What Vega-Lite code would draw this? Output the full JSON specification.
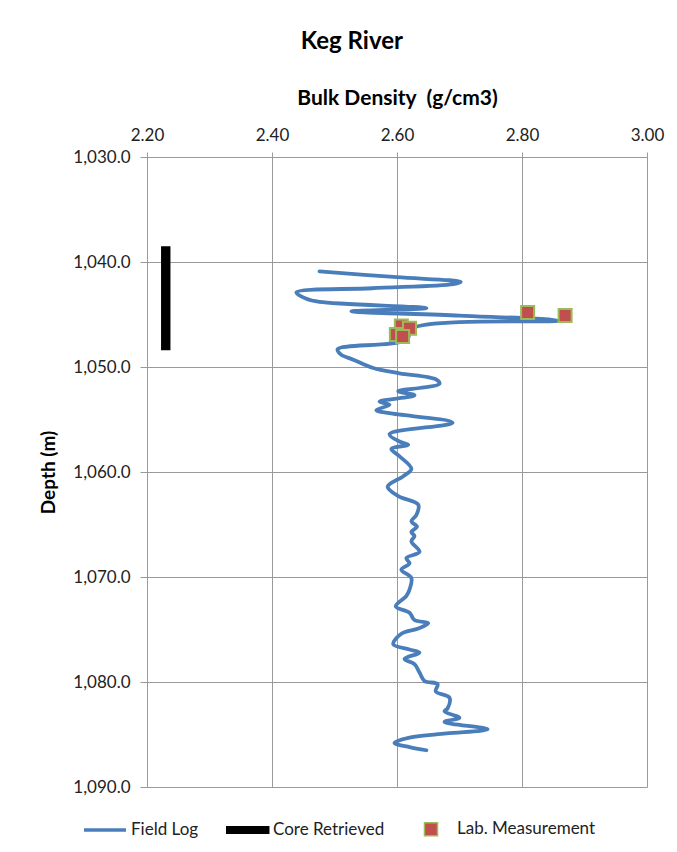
{
  "$schema": "https://vega.github.io/schema/vega-lite/v6.json",
  "width": 500,
  "height": 630,
  "autosize": {"type": "none"},
  "padding": {"left": 147, "top": 157, "right": 30, "bottom": 65},
  "background": "white",
  "title": {
    "text": "Keg River",
    "anchor": "middle",
    "frame": "bounds",
    "font": "Lato",
    "fontSize": 24,
    "fontWeight": "bold",
    "color": "#000000",
    "offset": 33
  },
  "config": {
    "font": "Lato",
    "view": {"stroke": null},
    "axis": {
      "gridColor": "#9a9a9a",
      "gridWidth": 1,
      "gridOpacity": 1,
      "domainColor": "#9a9a9a",
      "domainWidth": 1,
      "tickColor": "#9a9a9a",
      "tickWidth": 1,
      "labelFont": "Lato",
      "labelFontSize": 17,
      "labelColor": "#222222",
      "titleFont": "Lato",
      "titleFontWeight": "bold",
      "titleColor": "#000000"
    }
  },
  "datasets": {
    "log": [
      {"density": 2.476, "depth": 1040.9},
      {"density": 2.600, "depth": 1041.45},
      {"density": 2.702, "depth": 1041.9},
      {"density": 2.690, "depth": 1042.1},
      {"density": 2.560, "depth": 1042.5},
      {"density": 2.439, "depth": 1042.9},
      {"density": 2.455, "depth": 1043.5},
      {"density": 2.476, "depth": 1043.8},
      {"density": 2.647, "depth": 1044.4},
      {"density": 2.527, "depth": 1044.7},
      {"density": 2.700, "depth": 1045.1},
      {"density": 2.857, "depth": 1045.6},
      {"density": 2.625, "depth": 1046.3},
      {"density": 2.615, "depth": 1047.4},
      {"density": 2.505, "depth": 1048.3},
      {"density": 2.510, "depth": 1048.8},
      {"density": 2.530, "depth": 1049.3},
      {"density": 2.562, "depth": 1050.1},
      {"density": 2.604, "depth": 1050.6},
      {"density": 2.663, "depth": 1051.2},
      {"density": 2.668, "depth": 1051.6},
      {"density": 2.636, "depth": 1052.0},
      {"density": 2.602, "depth": 1052.3},
      {"density": 2.628, "depth": 1052.7},
      {"density": 2.572, "depth": 1053.3},
      {"density": 2.588, "depth": 1053.6},
      {"density": 2.567, "depth": 1054.1},
      {"density": 2.588, "depth": 1054.4},
      {"density": 2.689, "depth": 1055.3},
      {"density": 2.588, "depth": 1056.4},
      {"density": 2.604, "depth": 1057.1},
      {"density": 2.618, "depth": 1057.4},
      {"density": 2.591, "depth": 1057.8},
      {"density": 2.604, "depth": 1058.5},
      {"density": 2.623, "depth": 1059.7},
      {"density": 2.610, "depth": 1060.4},
      {"density": 2.585, "depth": 1061.4},
      {"density": 2.602, "depth": 1062.3},
      {"density": 2.634, "depth": 1063.1},
      {"density": 2.631, "depth": 1064.1},
      {"density": 2.623, "depth": 1064.7},
      {"density": 2.632, "depth": 1065.2},
      {"density": 2.623, "depth": 1065.7},
      {"density": 2.628, "depth": 1066.1},
      {"density": 2.623, "depth": 1066.6},
      {"density": 2.636, "depth": 1067.6},
      {"density": 2.615, "depth": 1068.2},
      {"density": 2.620, "depth": 1068.7},
      {"density": 2.607, "depth": 1069.3},
      {"density": 2.623, "depth": 1070.1},
      {"density": 2.620, "depth": 1071.2},
      {"density": 2.615, "depth": 1071.8},
      {"density": 2.598, "depth": 1072.8},
      {"density": 2.620, "depth": 1073.4},
      {"density": 2.628, "depth": 1074.1},
      {"density": 2.650, "depth": 1074.4},
      {"density": 2.634, "depth": 1074.9},
      {"density": 2.607, "depth": 1075.4},
      {"density": 2.594, "depth": 1076.4},
      {"density": 2.620, "depth": 1076.9},
      {"density": 2.636, "depth": 1077.2},
      {"density": 2.612, "depth": 1077.8},
      {"density": 2.628, "depth": 1078.3},
      {"density": 2.636, "depth": 1079.1},
      {"density": 2.644, "depth": 1079.9},
      {"density": 2.665, "depth": 1080.2},
      {"density": 2.662, "depth": 1080.9},
      {"density": 2.684, "depth": 1081.5},
      {"density": 2.681, "depth": 1082.5},
      {"density": 2.676, "depth": 1082.8},
      {"density": 2.700, "depth": 1083.4},
      {"density": 2.676, "depth": 1083.8},
      {"density": 2.745, "depth": 1084.5},
      {"density": 2.679, "depth": 1084.9},
      {"density": 2.620, "depth": 1085.3},
      {"density": 2.596, "depth": 1085.8},
      {"density": 2.620, "depth": 1086.2},
      {"density": 2.647, "depth": 1086.5}
    ],
    "core": [
      {"density": 2.23, "top": 1038.5, "bottom": 1048.4}
    ],
    "lab": [
      {"series": "Lab. Measurement", "density": 2.809, "depth": 1044.8},
      {"series": "Lab. Measurement", "density": 2.869, "depth": 1045.1},
      {"series": "Lab. Measurement", "density": 2.607, "depth": 1046.1},
      {"series": "Lab. Measurement", "density": 2.620, "depth": 1046.3},
      {"series": "Lab. Measurement", "density": 2.599, "depth": 1046.9},
      {"series": "Lab. Measurement", "density": 2.609, "depth": 1047.1}
    ]
  },
  "encoding": {
    "x": {
      "field": "density",
      "type": "quantitative",
      "scale": {"domain": [2.2, 3.0], "nice": false, "zero": false},
      "axis": {
        "orient": "top",
        "values": [2.2, 2.4, 2.6, 2.8, 3.0],
        "format": ".2f",
        "title": "Bulk Density \u00a0(g/cm3)",
        "titleFontSize": 21,
        "titlePadding": 18,
        "tickSize": 5,
        "labelPadding": 8,
        "labelFlush": false
      }
    },
    "y": {
      "field": "depth",
      "type": "quantitative",
      "scale": {"domain": [1030, 1090], "nice": false, "zero": false, "reverse": true},
      "axis": {
        "orient": "left",
        "values": [1030, 1040, 1050, 1060, 1070, 1080, 1090],
        "format": ",.1f",
        "title": "Depth (m)",
        "titleFontSize": 19,
        "titlePadding": 14,
        "tickSize": 7,
        "labelPadding": 10,
        "labelFlush": false
      }
    }
  },
  "layer": [
    {
      "data": {"name": "log"},
      "mark": {"type": "line", "color": "#4a7ebb", "strokeWidth": 3.8, "interpolate": "catmull-rom", "strokeCap": "round", "strokeJoin": "round"},
      "encoding": {
        "order": {"field": "depth", "type": "quantitative"}
      }
    },
    {
      "data": {"name": "core"},
      "mark": {"type": "rule", "color": "#000000", "strokeWidth": 9.4, "strokeCap": "butt"},
      "encoding": {
        "y": {"field": "top", "type": "quantitative"},
        "y2": {"field": "bottom"}
      }
    },
    {
      "data": {"name": "lab"},
      "mark": {"type": "point", "filled": true, "opacity": 1, "strokeWidth": 2, "size": 1764},
      "encoding": {
        "color": {
          "field": "series",
          "type": "nominal",
          "scale": {
            "domain": ["Field Log", "Core Retrieved", "Lab. Measurement"],
            "range": ["#4a7ebb", "#000000", "#c0504d"]
          },
          "legend": {
            "title": null,
            "orient": "none",
            "legendX": -64,
            "legendY": 650,
            "direction": "horizontal",
            "labelFont": "Lato",
            "labelFontSize": 17,
            "labelColor": "#222222",
            "labelOffset": 4,
            "columnPadding": 24,
            "symbolSize": 1764,
            "symbolOpacity": 1,
            "symbolStrokeWidth": 1.5
          }
        },
        "stroke": {
          "field": "series",
          "type": "nominal",
          "scale": {
            "domain": ["Field Log", "Core Retrieved", "Lab. Measurement"],
            "range": ["transparent", "transparent", "#9bbb59"]
          },
          "legend": {
            "title": null,
            "orient": "none",
            "legendX": -64,
            "legendY": 650,
            "direction": "horizontal",
            "labelFont": "Lato",
            "labelFontSize": 17,
            "labelColor": "#222222",
            "labelOffset": 4,
            "columnPadding": 24,
            "symbolSize": 1764,
            "symbolOpacity": 1,
            "symbolStrokeWidth": 1.5
          }
        },
        "shape": {
          "field": "series",
          "type": "nominal",
          "scale": {
            "domain": ["Field Log", "Core Retrieved", "Lab. Measurement"],
            "range": ["M-1,-0.085H1V0.085H-1Z", "M-1,-0.19H1.07V0.19H-1Z", "M-0.31,-0.31H0.31V0.31H-0.31Z"]
          }
        }
      }
    }
  ]
}
